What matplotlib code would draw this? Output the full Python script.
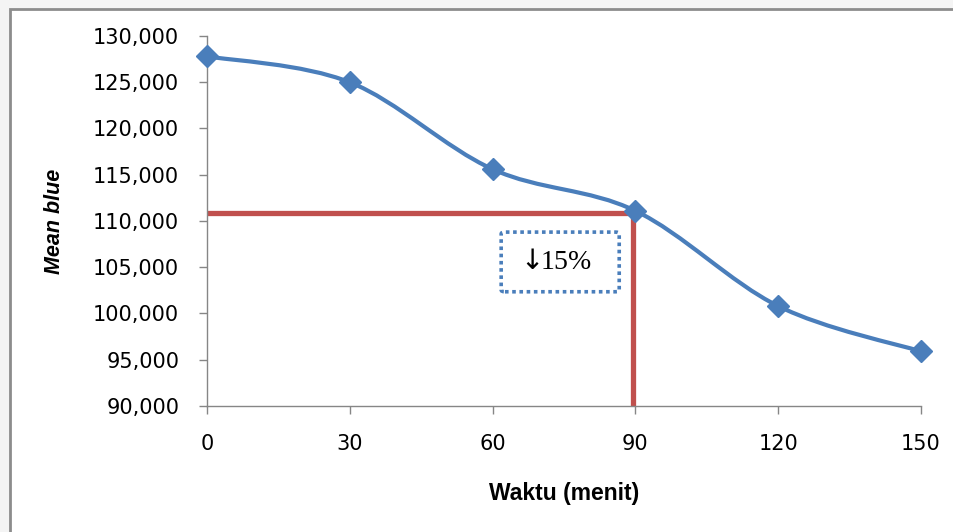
import matplotlib.pyplot as plt
from matplotlib.path import Path
from matplotlib.patches import PathPatch, Rectangle, FancyBboxPatch
from matplotlib.ticker import FuncFormatter

# data
waktu = [0, 30, 60, 90, 120, 150]
mean_blue = [127800, 125000, 115600, 111100, 100800, 95900]
batas_y = 110900     # red horizontal guide
batas_x = 89.4       # red vertical guide
x_ticks = [0, 30, 60, 90, 120, 150]
y_ticks = [90000, 95000, 100000, 105000, 110000, 115000, 120000, 125000, 130000]

BLUE = '#4a7ebb'
RED = '#c0504d'
GREY = '#868686'

fig = plt.figure(figsize=(9.54, 5.32), dpi=100)
fig.patch.set_facecolor('#f4f4f4')
fig.patches.append(Rectangle((10 / 954, -0.01), 1.02, 1 - 9 / 532 + 0.01, transform=fig.transFigure,
                             facecolor='white', edgecolor='#8c8c8c', linewidth=2, zorder=-5))

ax = fig.add_axes([207 / 954, 1 - 406 / 532, (921 - 207) / 954, (406 - 36) / 532])
ax.set_zorder(2)
ax.set_facecolor('none')
ax.set_xlim(0, 150)
ax.set_ylim(90000, 130000)

# smoothed line (Excel style), bezier segments built from the points
verts = [(waktu[0], mean_blue[0])]
codes = [Path.MOVETO]
n = len(waktu)
for i in range(n - 1):
    p0 = (waktu[max(i - 1, 0)], mean_blue[max(i - 1, 0)])
    p1 = (waktu[i], mean_blue[i])
    p2 = (waktu[i + 1], mean_blue[i + 1])
    p3 = (waktu[min(i + 2, n - 1)], mean_blue[min(i + 2, n - 1)])
    c1 = (p1[0] + (p2[0] - p0[0]) / 6, p1[1] + (p2[1] - p0[1]) / 6)
    c2 = (p2[0] - (p3[0] - p1[0]) / 6, p2[1] - (p3[1] - p1[1]) / 6)
    verts += [c1, c2, p2]
    codes += [Path.CURVE4] * 3
ax.add_patch(PathPatch(Path(verts, codes), facecolor='none', edgecolor=BLUE, linewidth=3,
                       capstyle='round', joinstyle='round', zorder=3, clip_on=False))
ax.plot(waktu, mean_blue, linestyle='none', marker='D', markersize=11, color=BLUE,
        zorder=4, clip_on=False)

# red guide lines
ax.plot([0, batas_x], [batas_y, batas_y], color=RED, linewidth=3.8, zorder=2, solid_capstyle='butt')
ax.plot([batas_x, batas_x], [batas_y, 90000], color=RED, linewidth=3.8, zorder=2, solid_capstyle='butt')

# annotation box
ax.add_patch(FancyBboxPatch((61.8, 102350), 24.8, 6450,
                            boxstyle='round,pad=0,rounding_size=0.8',
                            mutation_aspect=250, facecolor='white', edgecolor=BLUE,
                            linestyle=(0, (1, 1)), linewidth=2.6, zorder=5))
ax.text(72.9, 105500, r'$\downarrow\!\!$15%', fontsize=20,
        family=['Liberation Serif', 'DejaVu Serif'], ha='center', va='center', zorder=6)

for s in ['top', 'right']:
    ax.spines[s].set_visible(False)
for s in ['left', 'bottom']:
    ax.spines[s].set_color(GREY)
    ax.spines[s].set_linewidth(1)

ax.set_xticks(x_ticks)
ax.set_yticks(y_ticks)
ax.yaxis.set_major_formatter(FuncFormatter(lambda v, p: f'{int(v):,}'))
ax.tick_params(axis='both', direction='out', length=6, color=GREY, width=1)
ax.tick_params(axis='y', labelsize=15, pad=14)
ax.tick_params(axis='x', labelsize=15, pad=14)
for lab in ax.get_yticklabels() + ax.get_xticklabels():
    lab.set_family(['DejaVu Sans'])

ax.set_ylabel('Mean blue', fontsize=15.5, fontweight='bold', fontstyle='italic',
              family=['Liberation Sans', 'DejaVu Sans'], labelpad=20)
ax.set_xlabel('Waktu (menit)', fontsize=16.5, fontweight='bold',
              family=['Liberation Sans', 'DejaVu Sans'], labelpad=20)

fig.savefig('out.png', dpi=100)
